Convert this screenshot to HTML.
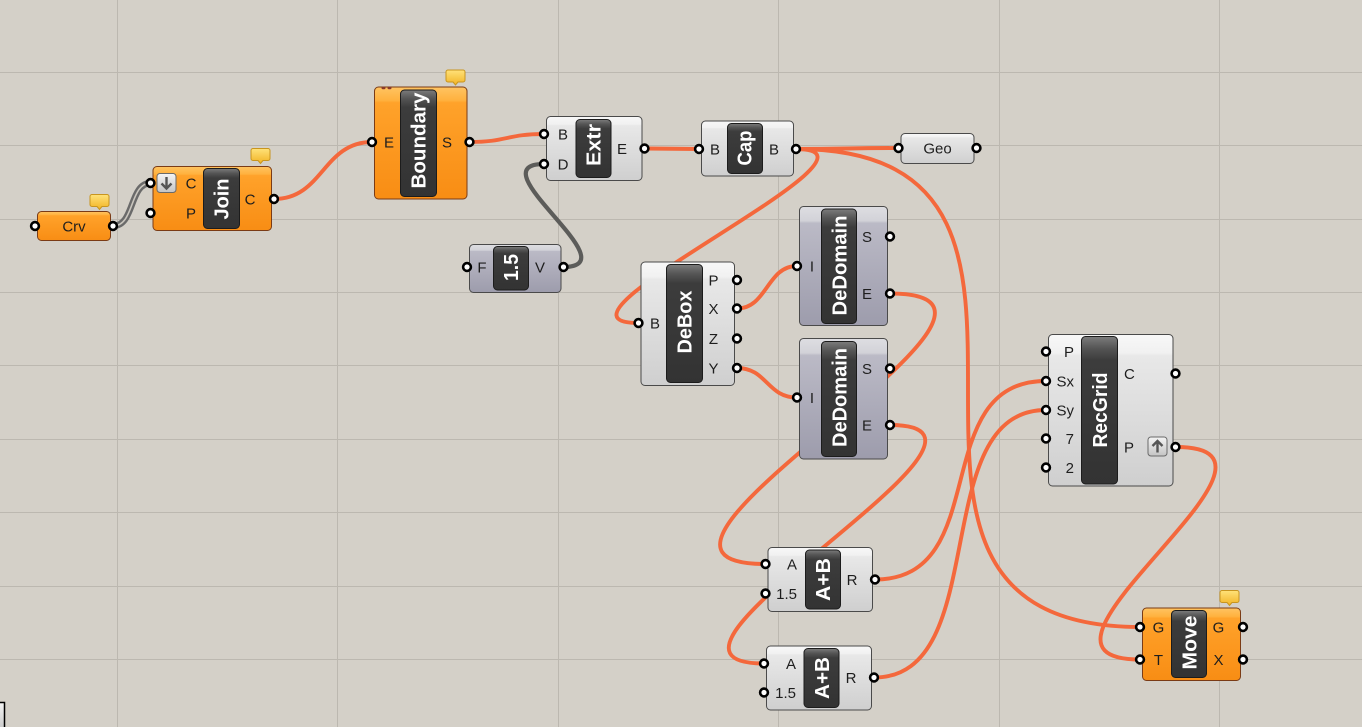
<!DOCTYPE html>
<html><head><meta charset="utf-8"><style>
html,body{margin:0;padding:0;background:#d4d0c8;width:1362px;height:727px;overflow:hidden}
svg{display:block}
text{font-family:"Liberation Sans",Arial,sans-serif}
.pl{font-size:15px;fill:#1e1e1e}
.pt{font-size:20px;font-weight:bold;fill:#fff}
</style></head><body>
<svg width="1362" height="727" viewBox="0 0 1362 727" xmlns="http://www.w3.org/2000/svg">
<defs>
<linearGradient id="gw" x1="0" y1="0" x2="0" y2="1">
<stop offset="0" stop-color="#f8f8f8"/><stop offset="0.12" stop-color="#f1f1f1"/><stop offset="0.14" stop-color="#e8e8e8"/><stop offset="1" stop-color="#cfcfcf"/></linearGradient>
<linearGradient id="go" x1="0" y1="0" x2="0" y2="1">
<stop offset="0" stop-color="#ffc462"/><stop offset="0.12" stop-color="#ffb13e"/><stop offset="0.14" stop-color="#ffa22a"/><stop offset="1" stop-color="#f88d14"/></linearGradient>
<linearGradient id="gu" x1="0" y1="0" x2="0" y2="1">
<stop offset="0" stop-color="#dedee2"/><stop offset="0.12" stop-color="#d2d2d8"/><stop offset="0.14" stop-color="#bbbac6"/><stop offset="1" stop-color="#9d9cac"/></linearGradient>
<linearGradient id="gp" x1="0" y1="0" x2="0" y2="1">
<stop offset="0" stop-color="#7c7c7c"/><stop offset="0.08" stop-color="#555"/><stop offset="0.16" stop-color="#3c3c3c"/><stop offset="1" stop-color="#333"/></linearGradient>
<linearGradient id="gb" x1="0" y1="0" x2="0" y2="1">
<stop offset="0" stop-color="#ffe27a"/><stop offset="1" stop-color="#f2b324"/></linearGradient>
<linearGradient id="gi" x1="0" y1="0" x2="0" y2="1">
<stop offset="0" stop-color="#f4f4f4"/><stop offset="1" stop-color="#c4c4c4"/></linearGradient>
</defs>

<!-- grid -->
<g stroke="#bcb8b0" stroke-width="1">
<line x1="117.5" y1="0" x2="117.5" y2="727"/>
<line x1="337.5" y1="0" x2="337.5" y2="727"/>
<line x1="558.5" y1="0" x2="558.5" y2="727"/>
<line x1="778.5" y1="0" x2="778.5" y2="727"/>
<line x1="999.5" y1="0" x2="999.5" y2="727"/>
<line x1="1219.5" y1="0" x2="1219.5" y2="727"/>
<line x1="0" y1="72.5" x2="1362" y2="72.5"/>
<line x1="0" y1="145.5" x2="1362" y2="145.5"/>
<line x1="0" y1="219.5" x2="1362" y2="219.5"/>
<line x1="0" y1="292.5" x2="1362" y2="292.5"/>
<line x1="0" y1="365.5" x2="1362" y2="365.5"/>
<line x1="0" y1="439.5" x2="1362" y2="439.5"/>
<line x1="0" y1="512.5" x2="1362" y2="512.5"/>
<line x1="0" y1="586.5" x2="1362" y2="586.5"/>
<line x1="0" y1="659.5" x2="1362" y2="659.5"/>
</g>

<!-- wires -->
<g fill="none">
<path d="M113 226 C135 226,129 183,151 183" stroke="#6a6a6a" stroke-width="6.4"/>
<path d="M113 226 C135 226,129 183,151 183" stroke="#c9c5bd" stroke-width="1.6"/>
<path d="M563 267 C633 267,474 164,544 164" stroke="#5c5c5a" stroke-width="4.2"/>
<g stroke="#f4683c" stroke-width="3.9">
<path d="M274 199 C323 199,323 142,372 142"/>
<path d="M470 142 C507 142,507 134,544 134"/>
<path d="M645 148.5 C672 148.5,672 149,698 149"/>
<path d="M796 149 C847 149,847 148,898 148"/>
<path d="M796 149 C911 149,523 323,638 323"/>
<path d="M796 149 C1140 149,796 627,1140 627"/>
<path d="M737 308.5 C767 308.5,767 266,797 266"/>
<path d="M737 368 C767 368,767 397.5,797 397.5"/>
<path d="M890 293.5 C1085 293.5,570 564,765 564"/>
<path d="M890 425 C1050 425,604 663.5,764 663.5"/>
<path d="M875 579.5 C995 579.5,926 381,1046 381"/>
<path d="M874 677.5 C994 677.5,926 410,1046 410"/>
<path d="M1176 447 C1326 447,990 659.5,1140 659.5"/>
</g>
</g>

<!-- balloons -->
<g fill="url(#gb)" stroke="#c8951f" stroke-width="1">
<path d="M92 194.5 h15 a2 2 0 0 1 2 2 v8 a2 2 0 0 1 -2 2 h-5 l-2.5 3 l-2.5 -3 h-5 a2 2 0 0 1 -2 -2 v-8 a2 2 0 0 1 2 -2z"/>
<path d="M253 148.5 h15 a2 2 0 0 1 2 2 v8 a2 2 0 0 1 -2 2 h-5 l-2.5 3 l-2.5 -3 h-5 a2 2 0 0 1 -2 -2 v-8 a2 2 0 0 1 2 -2z"/>
<path d="M448 70 h15 a2 2 0 0 1 2 2 v8 a2 2 0 0 1 -2 2 h-5 l-2.5 3 l-2.5 -3 h-5 a2 2 0 0 1 -2 -2 v-8 a2 2 0 0 1 2 -2z"/>
<path d="M1222 590.5 h15 a2 2 0 0 1 2 2 v8 a2 2 0 0 1 -2 2 h-5 l-2.5 3 l-2.5 -3 h-5 a2 2 0 0 1 -2 -2 v-8 a2 2 0 0 1 2 -2z"/>
</g>

<!-- nodes -->
<g stroke-width="1">
<rect x="37.5" y="211.5" width="73" height="29" rx="4" fill="url(#go)" stroke="#7a3b16"/>
<rect x="153" y="166.5" width="118.5" height="64" rx="4" fill="url(#go)" stroke="#7a3b16"/>
<rect x="374.5" y="87" width="92.5" height="112" rx="4" fill="url(#go)" stroke="#7a3b16"/>
<rect x="546.5" y="116.5" width="95.5" height="64" rx="4" fill="url(#gw)" stroke="#4a4a4a"/>
<rect x="701.5" y="121" width="92" height="55" rx="4" fill="url(#gw)" stroke="#4a4a4a"/>
<rect x="901" y="133.5" width="73" height="30" rx="4" fill="url(#gw)" stroke="#4a4a4a"/>
<rect x="469.5" y="244.5" width="91.5" height="48" rx="4" fill="url(#gu)" stroke="#4a4a4a"/>
<rect x="641" y="262" width="93.5" height="123.5" rx="4" fill="url(#gw)" stroke="#4a4a4a"/>
<rect x="799.5" y="206.5" width="88" height="119" rx="4" fill="url(#gu)" stroke="#4a4a4a"/>
<rect x="799.5" y="338.5" width="88" height="120.5" rx="4" fill="url(#gu)" stroke="#4a4a4a"/>
<rect x="1048.5" y="334.5" width="124.5" height="151.5" rx="4" fill="url(#gw)" stroke="#4a4a4a"/>
<rect x="768" y="547.5" width="104.5" height="64" rx="4" fill="url(#gw)" stroke="#4a4a4a"/>
<rect x="766.5" y="646" width="105" height="64" rx="4" fill="url(#gw)" stroke="#4a4a4a"/>
<rect x="1142.5" y="608" width="98" height="72.5" rx="4" fill="url(#go)" stroke="#7a3b16"/>
</g>
<ellipse cx="383.5" cy="88" rx="2" ry="1.3" fill="#8b3a2a"/>
<ellipse cx="389.5" cy="88" rx="2" ry="1.3" fill="#8b3a2a"/>

<!-- panels -->
<g fill="url(#gp)" stroke="#1c1c1c" stroke-width="1">
<rect x="203.5" y="168.5" width="36" height="60" rx="4"/>
<rect x="400.5" y="90" width="36" height="106.5" rx="4"/>
<rect x="576" y="119.5" width="35" height="58" rx="4"/>
<rect x="727.5" y="123.5" width="35" height="50" rx="4"/>
<rect x="493.5" y="246.5" width="35" height="43.5" rx="4"/>
<rect x="666.5" y="264.5" width="36" height="118" rx="4"/>
<rect x="821.5" y="209" width="35" height="114.5" rx="4"/>
<rect x="821.5" y="341.5" width="35" height="115" rx="4"/>
<rect x="1081.5" y="336.5" width="36" height="147.5" rx="4"/>
<rect x="805.5" y="550" width="35" height="59" rx="4"/>
<rect x="804" y="648.5" width="35" height="59" rx="4"/>
<rect x="1171.5" y="610.5" width="35" height="67" rx="4"/>
</g>

<!-- panel titles -->
<g class="pt">
<text transform="translate(228.5,219.5) rotate(-90)" textLength="41" lengthAdjust="spacingAndGlyphs">Join</text>
<text transform="translate(425.5,188.5) rotate(-90)" textLength="96" lengthAdjust="spacingAndGlyphs">Boundary</text>
<text transform="translate(600.5,166) rotate(-90)" textLength="42" lengthAdjust="spacingAndGlyphs">Extr</text>
<text transform="translate(751.5,165.5) rotate(-90)" textLength="35" lengthAdjust="spacingAndGlyphs">Cap</text>
<text transform="translate(518,281) rotate(-90)" textLength="27" lengthAdjust="spacingAndGlyphs">1.5</text>
<text transform="translate(691.5,353.5) rotate(-90)" textLength="63" lengthAdjust="spacingAndGlyphs">DeBox</text>
<text transform="translate(846.5,315.5) rotate(-90)" textLength="100" lengthAdjust="spacingAndGlyphs">DeDomain</text>
<text transform="translate(846.5,447) rotate(-90)" textLength="99" lengthAdjust="spacingAndGlyphs">DeDomain</text>
<text transform="translate(1107,447.5) rotate(-90)" textLength="75" lengthAdjust="spacingAndGlyphs">RecGrid</text>
<text transform="translate(830,601) rotate(-90)" textLength="43" lengthAdjust="spacingAndGlyphs">A+B</text>
<text transform="translate(829,699) rotate(-90)" textLength="42" lengthAdjust="spacingAndGlyphs">A+B</text>
<text transform="translate(1196.5,669.5) rotate(-90)" textLength="54" lengthAdjust="spacingAndGlyphs">Move</text>
</g>

<!-- icons -->
<rect x="157" y="173.5" width="19" height="19" rx="3" fill="url(#gi)" stroke="#6a6a6a"/>
<path d="M166.5 177 V188.5 M161.5 183.5 L166.5 188.5 L171.5 183.5" fill="none" stroke="#555" stroke-width="2.4"/>
<rect x="1148" y="437" width="19" height="19" rx="3" fill="url(#gi)" stroke="#6a6a6a"/>
<path d="M1157.5 452.5 V441 M1152.5 446 L1157.5 441 L1162.5 446" fill="none" stroke="#555" stroke-width="2.4"/>

<!-- port labels -->
<g class="pl" text-anchor="middle">
<text x="74" y="231.5">Crv</text>
<text x="937.5" y="153.5">Geo</text>
<text x="191" y="188.5">C</text>
<text x="191" y="218.5">P</text>
<text x="250" y="204.5">C</text>
<text x="389" y="147.5">E</text>
<text x="447" y="147.5">S</text>
<text x="563" y="139.5">B</text>
<text x="563" y="169.5">D</text>
<text x="622" y="154">E</text>
<text x="715" y="154.5">B</text>
<text x="774" y="154.5">B</text>
<text x="482" y="272.5">F</text>
<text x="540" y="272.5">V</text>
<text x="655" y="328.5">B</text>
<text x="713.5" y="285.5">P</text>
<text x="713.5" y="314">X</text>
<text x="713.5" y="344">Z</text>
<text x="713.5" y="373.5">Y</text>
<text x="812" y="271.5">I</text>
<text x="867" y="242">S</text>
<text x="867" y="299">E</text>
<text x="812" y="403">I</text>
<text x="867" y="374">S</text>
<text x="867" y="430.5">E</text>
<text x="852" y="585">R</text>
<text x="851" y="683">R</text>
<text x="1158.5" y="632.5">G</text>
<text x="1158.5" y="665">T</text>
<text x="1218.5" y="632.5">G</text>
<text x="1218.5" y="665">X</text>
</g>
<g class="pl" text-anchor="end">
<text x="1074" y="357">P</text>
<text x="1074" y="386.5">Sx</text>
<text x="1074" y="415.5">Sy</text>
<text x="1074" y="444">7</text>
<text x="1074" y="473">2</text>
<text x="797" y="569.5">A</text>
<text x="797" y="599">1.5</text>
<text x="796" y="669">A</text>
<text x="796" y="698">1.5</text>
</g>
<g class="pl" text-anchor="start">
<text x="1124" y="379">C</text>
<text x="1124" y="452.5">P</text>
</g>

<!-- ports -->
<g fill="#fff" stroke="#000" stroke-width="2.6">
<circle cx="35" cy="226" r="3.9"/><circle cx="113" cy="226" r="3.9"/>
<circle cx="150.5" cy="183" r="3.9"/><circle cx="150.5" cy="213" r="3.9"/><circle cx="274" cy="199" r="3.9"/>
<circle cx="372" cy="142" r="3.9"/><circle cx="469.5" cy="142" r="3.9"/>
<circle cx="544" cy="134" r="3.9"/><circle cx="544" cy="164" r="3.9"/><circle cx="644.5" cy="148.5" r="3.9"/>
<circle cx="699" cy="149" r="3.9"/><circle cx="796" cy="149" r="3.9"/>
<circle cx="898.5" cy="148" r="3.9"/><circle cx="976.5" cy="148" r="3.9"/>
<circle cx="467" cy="267" r="3.9"/><circle cx="563.5" cy="267" r="3.9"/>
<circle cx="638.5" cy="323" r="3.9"/>
<circle cx="737" cy="280" r="3.9"/><circle cx="737" cy="308.5" r="3.9"/><circle cx="737" cy="338.5" r="3.9"/><circle cx="737" cy="368" r="3.9"/>
<circle cx="797" cy="266" r="3.9"/><circle cx="890" cy="236.5" r="3.9"/><circle cx="890" cy="293.5" r="3.9"/>
<circle cx="797" cy="397.5" r="3.9"/><circle cx="890" cy="368.5" r="3.9"/><circle cx="890" cy="425" r="3.9"/>
<circle cx="1046" cy="351.5" r="3.9"/><circle cx="1046" cy="381" r="3.9"/><circle cx="1046" cy="410" r="3.9"/><circle cx="1046" cy="438.5" r="3.9"/><circle cx="1046" cy="467.5" r="3.9"/>
<circle cx="1175.5" cy="373.5" r="3.9"/><circle cx="1175.5" cy="447" r="3.9"/>
<circle cx="765.5" cy="564" r="3.9"/><circle cx="765.5" cy="593.5" r="3.9"/><circle cx="875" cy="579.5" r="3.9"/>
<circle cx="764" cy="663.5" r="3.9"/><circle cx="764" cy="692.5" r="3.9"/><circle cx="874" cy="677.5" r="3.9"/>
<circle cx="1140" cy="627" r="3.9"/><circle cx="1140" cy="659.5" r="3.9"/><circle cx="1243" cy="627" r="3.9"/><circle cx="1243" cy="659.5" r="3.9"/>
</g>

<!-- bottom-left fragment -->
<rect x="-3" y="702.5" width="7.5" height="30" fill="url(#gi)" stroke="#000" stroke-width="1.5"/>
</svg>
</body></html>
